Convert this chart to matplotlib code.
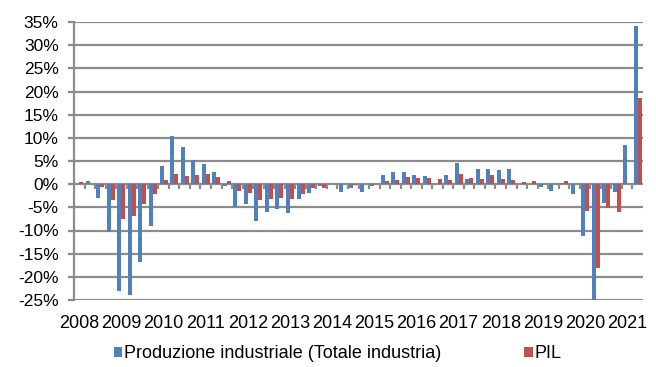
import numpy as np
import matplotlib
matplotlib.use("Agg")
import matplotlib.pyplot as plt
from matplotlib.patches import Patch

plt.rcParams['font.family'] = ['Liberation Sans', 'DejaVu Sans']

# Variazioni tendenziali trimestrali, 2008 T1 - 2021 T2
years = [str(y) for y in range(2008, 2022)]

produzione = [0.0, 0.6, -3.0, -10.3, -23.1, -23.9, -16.8, -9.0,
              3.9, 10.3, 8.0, 5.3, 4.3, 2.7, -0.3, -4.9,
              -4.2, -8.0, -6.0, -5.3, -6.2, -3.3, -2.0, -0.4,
              0.0, -1.6, -0.9, -1.6, -0.3, 2.0, 2.6, 2.7,
              2.0, 1.7, 0.0, 1.9, 4.5, 1.2, 3.2, 3.2,
              3.0, 3.2, 0.0, 0.0, -0.7, -1.5, 0.25, -2.2,
              -11.2, -25.4, -4.0, -1.7, 8.5, 34.1]

pil = [0.5, 0.0, -0.6, -3.4, -7.5, -6.9, -4.3, -2.1,
       0.9, 2.1, 1.7, 1.9, 2.1, 1.6, 0.6, -1.4,
       -2.0, -3.4, -3.1, -3.0, -3.2, -2.2, -0.9, -0.85,
       0.0, 0.0, -0.2, 0.0, 0.0, 0.6, 0.85, 1.5,
       1.4, 1.4, 1.1, 0.8, 2.1, 1.35, 1.2, 1.9,
       1.15, 1.0, 0.55, 0.7, 0.1, 0.1, 0.75, 0.0,
       -5.8, -18.2, -5.25, -6.0, 0.0, 18.6]

BLUE = '#4F81BD'
RED = '#C0504D'
GRID = '#8C8C8C'

fig = plt.figure(figsize=(6.56, 3.67), dpi=100)
ax = fig.add_axes([74 / 656, 67 / 367, 569 / 656, 278 / 367])

x = np.arange(len(produzione))
w = 0.38
ax.bar(x - w / 2, produzione, width=w, color=BLUE, zorder=3,
       label='Produzione industriale (Totale industria)')
ax.bar(x + w / 2, pil, width=w, color=RED, zorder=3, label='PIL')

# asse y
ax.set_ylim(-25, 35)
ax.set_yticks(np.arange(-25, 36, 5))
ax.set_yticklabels([f'{v}%' for v in range(-25, 36, 5)], fontsize=12.5)
ax.yaxis.grid(True, color=GRID, linewidth=1.6, zorder=1)
ax.tick_params(axis='y', length=4, width=1.6, color=GRID, pad=7)

# asse x: etichette in basso, tacche sulla linea dello zero
ax.set_xlim(-0.5, len(x) - 0.5)
ax.set_xticks(x[::4])
ax.set_xticklabels(years, fontsize=13)
ax.tick_params(axis='x', length=0, pad=10.5)
bounds = np.arange(0.5, len(x) - 0.5, 1.0)
ax.vlines(bounds, -1.1, 0, color=GRID, linewidth=1.6, zorder=2)

for side in ['top', 'right', 'bottom']:
    ax.spines[side].set_visible(False)
ax.spines['left'].set_color(GRID)
ax.spines['left'].set_linewidth(1.6)
ax.set_axisbelow(True)

handles = [Patch(facecolor=BLUE, label='Produzione industriale (Totale industria)'),
           Patch(facecolor=RED, label='PIL')]
fig.legend(handles=handles, loc='center', bbox_to_anchor=(0.515, 0.036),
           ncol=2, frameon=False, fontsize=13, handlelength=0.45,
           handleheight=0.45, handletextpad=0.1, columnspacing=4.6,
           borderaxespad=0)

fig.savefig('out.png', dpi=100)
